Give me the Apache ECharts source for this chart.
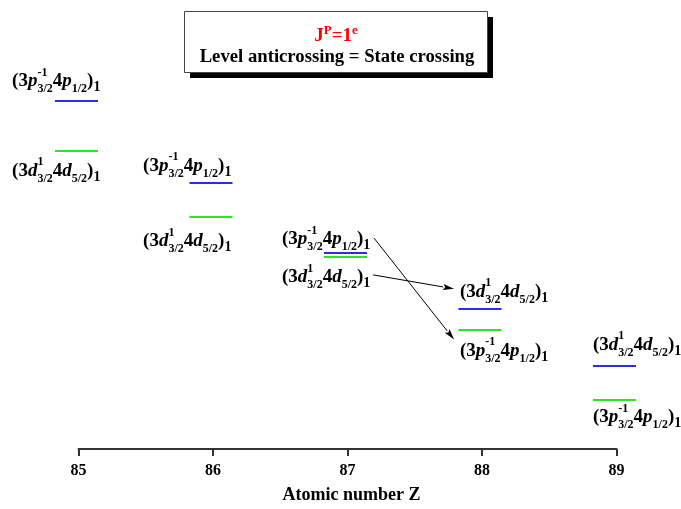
<!DOCTYPE html>
<html>
<head>
<meta charset="utf-8">
<script src="https://cdn.jsdelivr.net/npm/echarts@6/dist/echarts.min.js"></script>
<style>html,body{margin:0;padding:0;background:#fff}#c{width:681px;height:509px}</style>
</head>
<body>
<div id="c"></div>
<script>
// ---- data ----
const atomicNumbers = [85, 86, 87, 88, 89];
const xTickLabels = ['85', '86', '87', '88', '89'];
// level energies (arbitrary units) of the upper (blue) and lower (green) J^P=1^e levels
const upperLevel = [87.4, 66.9, 49.2, 35.25, 20.9];
const lowerLevel = [74.8, 58.4, 48.2, 29.8, 12.3];
// state labels: Z position, energy position, configuration kind
const labelZ = [84.506, 84.506, 85.48, 85.48, 86.513, 86.513, 87.836, 87.836, 88.825, 88.825];
const labelE = [91.25, 68.75, 70, 51, 51.5, 42, 38.25, 23.5, 25, 6.75];
const labelKind = ['p', 'd', 'p', 'd', 'p', 'd', 'd', 'p', 'd', 'p'];
// arrows showing the state crossing (Z, energy)
const arrowFrom = [[87.197, 53], [87.19, 43.75]];
const arrowTo = [[87.792, 27.5], [87.792, 40.25]];
const titleLine1 = ['J', 'P', '=1', 'e'];
const titleLine2 = 'Level anticrossing = State crossing';
const xAxisName = 'Atomic number Z';

// ---- drawing ----
const FONT = '"Liberation Serif", "Times New Roman", serif';
const mctx = document.createElement('canvas').getContext('2d');
function tw(text, font) { mctx.font = font; return mctx.measureText(text).width; }

const MAIN = 19, SMALL = 12, SUB1 = 14;
const fMain = 'bold ' + MAIN + 'px ' + FONT;
const fItal = 'italic bold ' + MAIN + 'px ' + FONT;
const fSmall = 'bold ' + SMALL + 'px ' + FONT;
const fSub1 = 'bold ' + SUB1 + 'px ' + FONT;

function buildLabel(kind, x0, base) {
  const parts = [];
  let x = x0;
  function put(text, font, size, dy, advance) {
    parts.push({
      type: 'text',
      style: { text: text, x: x, y: base + dy - 0.24 * size, font: font, fill: '#000', align: 'left', verticalAlign: 'middle' }
    });
    if (advance !== false) x += tw(text, font);
  }
  const letter = kind === 'p' ? 'p' : 'd';
  const sup = kind === 'p' ? '-1' : '1';
  const sub2 = kind === 'p' ? '1/2' : '5/2';
  put('(3', fMain, MAIN, 0);
  put(letter, fItal, MAIN, 0);
  const xs = x;
  put(sup, fSmall, SMALL, -10.5, false);
  put('3/2', fSmall, SMALL, 6, false);
  x = xs + Math.max(tw(sup, fSmall), tw('3/2', fSmall));
  put('4', fMain, MAIN, 0);
  put(letter, fItal, MAIN, 0);
  put(sub2, fSmall, SMALL, 6);
  put(')', fMain, MAIN, 0);
  put('1', fSub1, SUB1, 5);
  return parts;
}

const levelData = [];
atomicNumbers.forEach((z, i) => {
  levelData.push([z, upperLevel[i], 0]);
  levelData.push([z, lowerLevel[i], 1]);
});
const labelData = labelZ.map((z, i) => [z, labelE[i], labelKind[i] === 'p' ? 0 : 1]);
const arrowData = arrowFrom.map((f, i) => [f[0], f[1], arrowTo[i][0], arrowTo[i][1]]);
const levelColors = ['#2b2bf0', '#2ae62a'];

const chart = echarts.init(document.getElementById('c'), null, { renderer: 'canvas' });
chart.setOption({
  animation: false,
  backgroundColor: '#fff',
  grid: { left: 78.5, right: 64.5, top: 51, bottom: 58 },
  xAxis: {
    type: 'value', min: 85, max: 89, interval: 1,
    name: xAxisName, nameLocation: 'middle', nameGap: 37,
    nameTextStyle: { fontFamily: FONT, fontWeight: 'bold', fontSize: 18, color: '#000', padding: [0, 0, 0, 8] },
    axisLine: { lineStyle: { color: '#333', width: 2 } },
    axisTick: { show: true, length: 7, lineStyle: { color: '#333', width: 2 } },
    axisLabel: { fontFamily: FONT, fontWeight: 'bold', fontSize: 16, color: '#000', margin: 14,
      formatter: v => xTickLabels[atomicNumbers.indexOf(v)] || '' },
    splitLine: { show: false }
  },
  yAxis: { type: 'value', min: 0, max: 100, show: false },
  graphic: [
    { type: 'rect', shape: { x: 190, y: 17, width: 303, height: 61 }, style: { fill: '#000' }, z: 10 },
    { type: 'rect', shape: { x: 184.5, y: 11.5, width: 303, height: 61 }, style: { fill: '#fff', stroke: '#444', lineWidth: 1 }, z: 11 },
    { type: 'text', x: 336, y: 35, z: 12,
      style: { text: '{a|' + titleLine1[0] + '}{b|' + titleLine1[1] + '}{a|' + titleLine1[2] + '}{b|' + titleLine1[3] + '}',
        align: 'center', verticalAlign: 'middle',
        rich: { a: { fontFamily: FONT, fontWeight: 'bold', fontSize: 19, fill: '#ff0000', verticalAlign: 'bottom', lineHeight: 22 },
                b: { fontFamily: FONT, fontWeight: 'bold', fontSize: 13, fill: '#ff0000', verticalAlign: 'top', lineHeight: 22 } } } },
    { type: 'text', x: 337, y: 57, z: 12,
      style: { text: titleLine2, align: 'center', verticalAlign: 'middle', font: 'bold 18.7px ' + FONT, fill: '#000' } }
  ],
  series: [
    {
      type: 'custom', name: 'levels', clip: false, data: levelData,
      renderItem: (params, api) => {
        const z = api.value(0), e = api.value(1), c = api.value(2);
        const a = api.coord([z - 0.175, e]), b = api.coord([z + 0.145, e]);
        return { type: 'line', shape: { x1: a[0], y1: Math.round(a[1]), x2: b[0], y2: Math.round(b[1]) },
          style: { stroke: levelColors[c], lineWidth: 2 } };
      }
    },
    {
      type: 'custom', name: 'labels', clip: false, data: labelData,
      renderItem: (params, api) => {
        const p = api.coord([api.value(0), api.value(1)]);
        return { type: 'group', children: buildLabel(api.value(2) === 0 ? 'p' : 'd', p[0], p[1]) };
      }
    },
    {
      type: 'custom', name: 'arrows', clip: false, data: arrowData,
      renderItem: (params, api) => {
        const a = api.coord([api.value(0), api.value(1)]);
        const b = api.coord([api.value(2), api.value(3)]);
        const dx = b[0] - a[0], dy = b[1] - a[1], L = Math.hypot(dx, dy);
        const ux = dx / L, uy = dy / L, hl = 11, hw = 3;
        const bx = b[0] - ux * hl, by = b[1] - uy * hl;
        return { type: 'group', children: [
          { type: 'line', shape: { x1: a[0], y1: a[1], x2: bx, y2: by }, style: { stroke: '#000', lineWidth: 1 } },
          { type: 'polygon', shape: { points: [[b[0], b[1]], [bx - uy * hw, by + ux * hw], [bx + ux * 2, by + uy * 2], [bx + uy * hw, by - ux * hw]] },
            style: { fill: '#000' } }
        ] };
      }
    }
  ]
});
</script>
</body>
</html>
